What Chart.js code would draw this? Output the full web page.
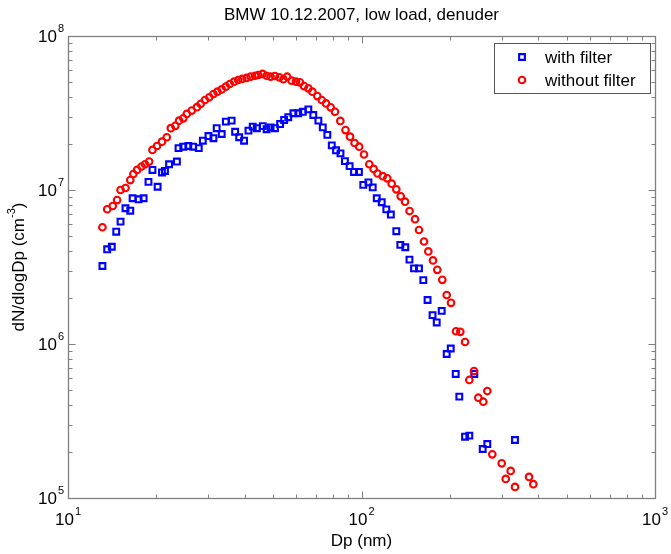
<!DOCTYPE html>
<html><head><meta charset="utf-8">
<script src="https://cdn.jsdelivr.net/npm/chart.js@4.4.1/dist/chart.umd.min.js"></script>
<style>html,body{margin:0;padding:0;background:#fff}#wrap{width:671px;height:554px}</style>
</head><body><div id="wrap"><canvas id="c" width="671" height="554"></canvas></div>
<script>
const chartTitle = 'BMW 10.12.2007, low load, denuder';
const xAxisLabel = 'Dp (nm)';
const yAxisLabel = ['dN/dlogDp (cm', '-3', ')'];
const seriesNames = ['with filter', 'without filter'];
const xTicks = [10, 100, 1000];
const xTickExp = ['1', '2', '3'];
const yTicks = [1e5, 1e6, 1e7, 1e8];
const yTickExp = ['5', '6', '7', '8'];

// with filter (blue squares)
const blueDp = [13.1,13.6,14.1,14.6,15.1,15.7,16.3,16.6,17.4,18.1,18.8,19.4,20.2,20.9,21.4,22.1,23.5,23.8,24.7,25.7,26.7,27.9,28.8,30.1,31.3,32.1,33.4,34.5,36.1,37.1,38.3,39.8,41.2,42.6,44.0,46.1,47.5,49.0,50.7,52.8,54.5,56.3,58.6,60.9,63.1,65.9,68.5,71.3,73.8,76.5,79.2,81.9,84.8,87.8,91.1,94.3,98.0,101.4,105.6,109.2,112.7,117.2,121.5,125.9,131.4,135.6,141.0,145.7,151.0,157.0,162.4,167.9,174.6,180.4,187.6,195.1,201.4,209.4,215.4,225.3,233.0,242.3,258.8,268.3,333.4];
const blueN = [3.21e6,4.12e6,4.28e6,5.36e6,6.23e6,7.61e6,7.34e6,8.84e6,8.7e6,8.84e6,1.13e7,1.35e7,1.05e7,1.30e7,1.33e7,1.47e7,1.53e7,1.87e7,1.91e7,1.93e7,1.91e7,1.87e7,2.09e7,2.24e7,2.17e7,2.52e7,2.31e7,2.78e7,2.82e7,2.39e7,2.2e7,2.09e7,2.43e7,2.58e7,2.52e7,2.6e7,2.48e7,2.55e7,2.52e7,2.68e7,2.85e7,2.97e7,3.15e7,3.15e7,3.22e7,3.34e7,3.07e7,2.82e7,2.55e7,2.28e7,1.95e7,1.81e7,1.73e7,1.54e7,1.43e7,1.31e7,1.31e7,1.08e7,1.12e7,1.04e7,8.84e6,8.33e6,7.49e6,6.93e6,5.4e6,4.4e6,4.25e6,3.53e6,3.1e6,3.1e6,2.6e6,1.93e6,1.54e6,1.38e6,1.64e6,8.61e5,9.35e5,6.39e5,4.55e5,2.5e5,2.54e5,6.39e5,2.08e5,2.24e5,2.38e5];

// without filter (red circles)
const redDp = [13.1,13.6,14.2,14.7,15.1,15.7,16.3,16.7,17.2,17.8,18.3,18.9,19.4,20.1,20.9,21.7,22.4,23.2,23.9,24.7,25.4,26.4,27.5,28.3,29.3,30.3,31.3,32.3,33.4,34.5,35.6,36.8,38.0,39.2,40.6,41.9,43.4,44.5,46.0,47.5,49.0,50.7,52.5,54.2,55.8,57.8,59.8,61.7,63.7,65.9,68.0,70.7,73.2,75.7,78.5,81.2,84.7,88.2,91.4,94.7,98.2,102.0,106.3,110.0,113.4,118.1,122.4,126.7,131.4,136.0,140.7,145.8,152.2,157.0,163.3,168.9,175.2,181.2,188.5,195.1,201.8,209.9,217.1,225.3,233.0,241.7,250.0,260.0,268.3,279.0,300.4,310.0,322.3,333.4,372.2,384.9];
const redN = [5.73e6,7.5e6,7.87e6,8.6e6,1.0e7,1.03e7,1.16e7,1.27e7,1.35e7,1.42e7,1.47e7,1.53e7,1.82e7,1.93e7,2.06e7,2.2e7,2.52e7,2.61e7,2.82e7,2.92e7,3.12e7,3.28e7,3.45e7,3.62e7,3.84e7,4.0e7,4.2e7,4.35e7,4.5e7,4.69e7,4.88e7,5.05e7,5.18e7,5.26e7,5.34e7,5.44e7,5.52e7,5.58e7,5.67e7,5.52e7,5.44e7,5.5e7,5.39e7,5.24e7,5.44e7,5.13e7,5.05e7,5.0e7,4.73e7,4.57e7,4.35e7,4.07e7,3.84e7,3.65e7,3.44e7,3.22e7,2.81e7,2.45e7,2.22e7,2.02e7,1.91e7,1.70e7,1.47e7,1.37e7,1.28e7,1.23e7,1.19e7,1.10e7,1.01e7,9.1e6,8.4e6,7.3e6,6.46e6,5.5e6,4.63e6,3.99e6,3.49e6,3.03e6,2.61e6,2.08e6,1.85e6,1.21e6,1.2e6,1.03e6,5.84e5,6.68e5,4.48e5,4.22e5,4.95e5,1.92e5,1.68e5,1.33e5,1.5e5,1.18e5,1.37e5,1.23e5];

const FONT = '"Liberation Sans", Arial, sans-serif';
const BLUE = '#0000ff', RED = '#ff0000', AXIS = '#808080';

function minorValues(decades) {
  const out = [];
  for (let i = 0; i < decades.length - 1; i++) for (let k = 2; k <= 9; k++) out.push(k * decades[i]);
  return out;
}

const frame = {
  id: 'frame',
  afterDraw(chart) {
    const ctx = chart.ctx, a = chart.chartArea;
    const xs = chart.scales.x, ys = chart.scales.y;
    ctx.save();
    // box
    ctx.strokeStyle = AXIS; ctx.lineWidth = 1.3;
    const L = Math.round(a.left) + 0.5, R = Math.round(a.right) + 0.5, T = Math.round(a.top) + 0.5, B = Math.round(a.bottom) + 0.5;
    ctx.strokeRect(L, T, R - L, B - T);
    ctx.lineWidth = 1;
    ctx.beginPath();
    const tick = (v, len, axis) => {
      if (axis === 'x') {
        const p = Math.round(xs.getPixelForValue(v)) + 0.5;
        ctx.moveTo(p, B); ctx.lineTo(p, B - len); ctx.moveTo(p, T); ctx.lineTo(p, T + len);
      } else {
        const p = Math.round(ys.getPixelForValue(v)) + 0.5;
        ctx.moveTo(L, p); ctx.lineTo(L + len, p); ctx.moveTo(R, p); ctx.lineTo(R - len, p);
      }
    };
    xTicks.forEach(v => tick(v, 7, 'x'));
    minorValues(xTicks).forEach(v => tick(v, 4, 'x'));
    yTicks.forEach(v => tick(v, 7, 'y'));
    minorValues(yTicks).forEach(v => tick(v, 4, 'y'));
    ctx.stroke();

    // tick labels
    ctx.fillStyle = '#000';
    const bigF = '17px ' + FONT, supF = '11px ' + FONT;
    xTicks.forEach((v, i) => {
      const p = xs.getPixelForValue(v);
      ctx.font = bigF; const wb = ctx.measureText('10').width;
      ctx.font = supF; const we = ctx.measureText(xTickExp[i]).width;
      const x0 = p - (wb + 1 + we) / 2;
      ctx.font = bigF; ctx.textAlign = 'left'; ctx.textBaseline = 'middle';
      ctx.fillText('10', x0, 520);
      ctx.font = supF; ctx.fillText(xTickExp[i], x0 + wb + 1, 512);
    });
    yTicks.forEach((v, i) => {
      const p = ys.getPixelForValue(v);
      ctx.font = supF; ctx.textAlign = 'right'; ctx.textBaseline = 'middle';
      const we = ctx.measureText(yTickExp[i]).width;
      ctx.fillText(yTickExp[i], 64, p - 7);
      ctx.font = bigF;
      ctx.fillText('10', 64 - we - 1, p + 1);
    });

    // title
    ctx.font = '17px ' + FONT; ctx.textAlign = 'center'; ctx.textBaseline = 'middle';
    ctx.fillText(chartTitle, (a.left + a.right) / 2, 15);
    // x label
    ctx.fillText(xAxisLabel, (a.left + a.right) / 2, 541);
    // y label (rotated, with superscript)
    ctx.save();
    ctx.translate(19, (a.top + a.bottom) / 2);
    ctx.rotate(-Math.PI / 2);
    const mF = '17px ' + FONT, sF = '11px ' + FONT;
    ctx.font = mF; const w1 = ctx.measureText(yAxisLabel[0]).width, w3 = ctx.measureText(yAxisLabel[2]).width;
    ctx.font = sF; const w2 = ctx.measureText(yAxisLabel[1]).width;
    let x = -(w1 + w2 + w3) / 2;
    ctx.textAlign = 'left'; ctx.textBaseline = 'middle';
    ctx.font = mF; ctx.fillText(yAxisLabel[0], x, 0); x += w1;
    ctx.font = sF; ctx.fillText(yAxisLabel[1], x, -7); x += w2;
    ctx.font = mF; ctx.fillText(yAxisLabel[2], x, 0);
    ctx.restore();

    // legend
    const lx = 494.5, ly = 43.5, lw = 156, lh = 50;
    ctx.fillStyle = '#fff'; ctx.fillRect(lx, ly, lw, lh);
    ctx.strokeStyle = '#555'; ctx.lineWidth = 1; ctx.strokeRect(lx, ly, lw, lh);
    const ds = chart.data.datasets;
    const rows = [57, 80];
    ds.forEach((d, i) => {
      const cy = rows[i], cx = 522;
      ctx.strokeStyle = d.borderColor; ctx.lineWidth = d.borderWidth;
      ctx.beginPath();
      if (d.pointStyle === 'rect') { const s = d.pointRadius * Math.SQRT1_2; ctx.rect(cx - s, cy - s, 2 * s, 2 * s); }
      else ctx.arc(cx, cy, d.pointRadius, 0, Math.PI * 2);
      ctx.stroke();
      ctx.fillStyle = '#000'; ctx.font = '17px ' + FONT; ctx.textAlign = 'left'; ctx.textBaseline = 'middle';
      ctx.fillText(d.label, 545, cy + 1);
    });
    ctx.restore();
  }
};

new Chart(document.getElementById('c').getContext('2d'), {
  type: 'scatter',
  data: {
    datasets: [
      { label: seriesNames[0], data: blueDp.map((x, i) => ({ x, y: blueN[i] })), pointStyle: 'rect', pointRadius: 4.1,
        borderColor: BLUE, backgroundColor: 'rgba(0,0,0,0)', borderWidth: 2.1, order: 1 },
      { label: seriesNames[1], data: redDp.map((x, i) => ({ x, y: redN[i] })), pointStyle: 'circle', pointRadius: 3.3,
        borderColor: RED, backgroundColor: 'rgba(0,0,0,0)', borderWidth: 2.1, order: 0 }
    ]
  },
  options: {
    responsive: false, animation: false, devicePixelRatio: 1, events: [],
    layout: { padding: { left: 68, top: 36, right: 16, bottom: 56 } },
    scales: {
      x: { type: 'logarithmic', min: 10, max: 1000, display: false },
      y: { type: 'logarithmic', min: 1e5, max: 1e8, display: false }
    },
    plugins: { legend: { display: false }, title: { display: false }, tooltip: { enabled: false } }
  },
  plugins: [frame]
});
</script></body></html>
